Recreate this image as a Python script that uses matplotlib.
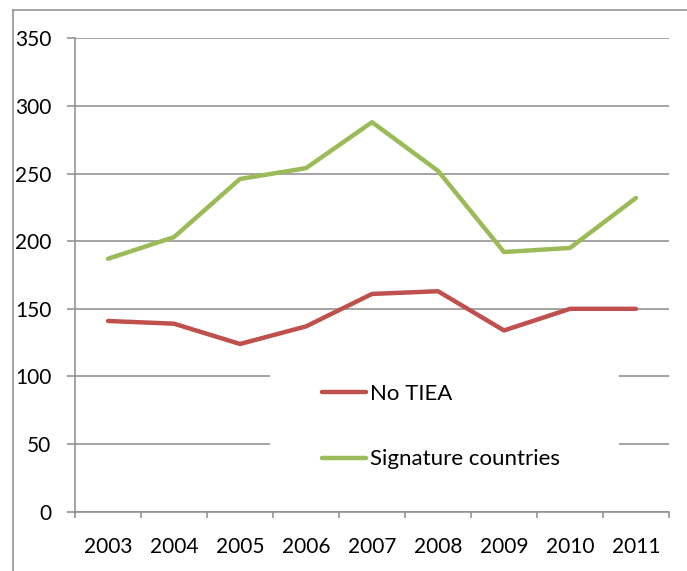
import numpy as np
import matplotlib.pyplot as plt
from matplotlib.patches import Rectangle
from matplotlib.lines import Line2D

plt.rcParams['font.family'] = ['Lato', 'DejaVu Sans']

years = ["2003", "2004", "2005", "2006", "2007", "2008", "2009", "2010", "2011"]
no_tiea = [141, 139, 124, 137, 161, 163, 134, 150, 150]
signature = [187, 203, 246, 254, 288, 252, 192, 195, 232]

GRID = "#8c8c8c"
RED = "#C0504D"
GREEN = "#9BBB59"

fig = plt.figure(figsize=(6.87, 5.71), dpi=100)
ax = fig.add_axes([75 / 687, 1 - 511.7 / 571, 594 / 687, 473.4 / 571])

x = np.arange(len(years))
ax.plot(x, no_tiea, color=RED, lw=3.2, solid_capstyle="round", zorder=3, label="No TIEA")
ax.plot(x, signature, color=GREEN, lw=3.2, solid_capstyle="round", zorder=3,
        label="Signature countries")

ax.set_xlim(-0.5, len(years) - 0.5)
ax.set_ylim(0, 350)
ax.set_yticks(np.arange(0, 351, 50))
ax.set_xticks(x)
ax.set_xticklabels(years)
ax.set_xticks(np.arange(-0.5, len(years), 1), minor=True)

ax.set_axisbelow(True)
ax.yaxis.grid(True, color=GRID, lw=1.1)
for side in ["top", "right"]:
    ax.spines[side].set_visible(False)
for side in ["left", "bottom"]:
    ax.spines[side].set_color(GRID)
    ax.spines[side].set_linewidth(1.1)

ax.tick_params(axis="y", length=6, width=1.1, color=GRID, pad=11, labelsize=15)
ax.tick_params(axis="x", which="major", length=0, pad=18, labelsize=15)
ax.tick_params(axis="x", which="minor", length=4, width=1.1, color=GRID)

# white legend area hiding the gridlines
ax.add_patch(Rectangle((0.328, 0.05), 0.588, 0.27, transform=ax.transAxes,
                       facecolor="white", edgecolor="none", zorder=1))
ax.legend(loc="upper left", bbox_to_anchor=(0.415, 0.27), frameon=False,
          fontsize=16, handlelength=2.0, handletextpad=0.2, labelspacing=2.05,
          borderpad=0, borderaxespad=0)

# outer chart border (top and left visible)
fig.add_artist(Line2D([13 / 687, 13 / 687], [0, 1 - 10 / 571], color=GRID, lw=1.1))
fig.add_artist(Line2D([13 / 687, 1], [1 - 10 / 571, 1 - 10 / 571], color=GRID, lw=1.1))

fig.savefig("out.png", dpi=100)
